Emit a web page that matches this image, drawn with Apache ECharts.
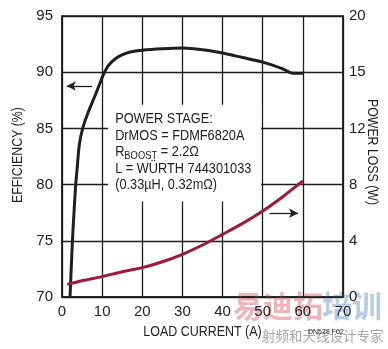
<!DOCTYPE html>
<html>
<head>
<meta charset="utf-8">
<script src="https://cdn.jsdelivr.net/npm/echarts@6/dist/echarts.min.js"></script>
<style>html,body{margin:0;padding:0;background:#fff}#c{width:388px;height:349px}</style>
</head>
<body>
<div id="c"></div>
<script>
// Efficiency (%) vs load current (A)
const effCurrent = [2.0, 2.6, 3.0, 3.4, 3.74, 4.3, 5.15, 6.6, 8.3, 9.55, 10.4, 11.6, 13.3, 15.4, 17.0, 20, 25, 30, 35, 40, 45, 50, 55, 57.5, 60];
const effValues  = [70.0, 75.0, 77.6, 79.9, 81.3, 83.5, 85.0, 86.5, 87.97, 89.1, 89.85, 90.6, 91.2, 91.6, 91.8, 91.95, 92.08, 92.15, 92.0, 91.7, 91.3, 90.9, 90.3, 89.9, 89.9];
// Power loss (W) vs load current (A)
const lossCurrent = [1.3, 5, 10, 15, 20, 25, 30, 35, 40, 45, 50, 55, 60];
const lossValues  = [0.90, 1.16, 1.45, 1.80, 2.09, 2.51, 3.04, 3.70, 4.46, 5.24, 6.12, 7.14, 8.26];
// tick labels
const rightTickLabels = ['0', '4', '8', '12', '15', '20'];
const noteLines = ['POWER STAGE:', 'DrMOS = FDMF6820A', 'R{sub|BOOST} = 2.2Ω', 'L = WÜRTH 744301033', '(0.33µH, 0.32mΩ)'];
const xTitle = 'LOAD CURRENT (A)';
const leftTitle = 'EFFICIENCY (%)';
const rightTitle = 'POWER LOSS (W)';

const effData = effCurrent.map((x, i) => [x, effValues[i]]);
const lossData = lossCurrent.map((x, i) => [x, lossValues[i]]);

const sans = 'Liberation Sans, Arial, sans-serif';
const tickFont = {fontFamily: sans, fontSize: 15, color: '#222'};
const black = '#1e1e1e';
const red = '#a0183c';

const chart = echarts.init(document.getElementById('c'), null, {renderer: 'canvas'});
chart.setOption({
  animation: false,
  backgroundColor: '#fff',
  grid: {left: 62, top: 16, right: 45, bottom: 52, show: true, borderColor: black, borderWidth: 1.5, backgroundColor: 'transparent'},
  xAxis: {
    type: 'value', min: 0, max: 70, interval: 10,
    axisLine: {show: true, lineStyle: {color: black, width: 1.5}},
    axisTick: {show: false},
    axisLabel: Object.assign({margin: 7}, tickFont),
    splitLine: {show: true, lineStyle: {color: black, width: 1.3}}
  },
  yAxis: [{
    type: 'value', min: 70, max: 95, interval: 5, position: 'left',
    axisLine: {show: true, lineStyle: {color: black, width: 1.5}},
    axisTick: {show: false},
    axisLabel: Object.assign({margin: 9}, tickFont),
    splitLine: {show: true, lineStyle: {color: black, width: 1.3}}
  }, {
    type: 'value', min: 0, max: 20, interval: 4, position: 'right',
    axisLine: {show: true, lineStyle: {color: black, width: 1.5}},
    axisTick: {show: false},
    axisLabel: Object.assign({margin: 6, formatter: (v) => rightTickLabels[Math.round(v / 4)]}, tickFont),
    splitLine: {show: false}
  }],
  series: [{
    type: 'line', yAxisIndex: 0, data: effData, smooth: 0.3, showSymbol: false,
    lineStyle: {color: black, width: 3}, z: 3, silent: true,
    markArea: {
      silent: true,
      itemStyle: {color: '#fff'},
      label: {show: false},
      data: [[{xAxis: 11.5, yAxis: 87.1}, {xAxis: 49.6, yAxis: 78.5}]]
    },
    markLine: {
      silent: true, symbol: ['none', 'arrow'], symbolSize: [7, 9],
      lineStyle: {color: black, width: 1.3, type: 'solid'}, label: {show: false},
      data: [[{coord: [7.5, 88.77]}, {coord: [1.2, 88.77]}]]
    }
  }, {
    type: 'line', yAxisIndex: 1, data: lossData, smooth: 0.3, showSymbol: false,
    lineStyle: {color: red, width: 3}, z: 3, silent: true,
    markLine: {
      silent: true, symbol: ['none', 'arrow'], symbolSize: [7, 9],
      lineStyle: {color: black, width: 1.3, type: 'solid'}, label: {show: false},
      data: [[{coord: [51.7, 5.96]}, {coord: [58.8, 5.96]}]]
    }
  }]
});

const boxTL = chart.convertToPixel({xAxisIndex: 0, yAxisIndex: 0}, [11.5, 87.1]);
const titleStyle = (t) => ({text: t, fontFamily: sans, fontSize: 14, fill: '#222', align: 'center', verticalAlign: 'middle'});
chart.setOption({
  graphic: [
    {type: 'text', left: 233, top: 291, z: 0, silent: true, style: {text: '易迪拓', fontFamily: 'Noto Sans CJK SC', fontSize: 30, fontWeight: 'bold', fill: 'rgba(226,130,142,0.6)'}},
    {type: 'text', left: 322, top: 291, z: 0, silent: true, style: {text: '培训', fontFamily: 'Noto Sans CJK SC', fontSize: 30, fontWeight: 'bold', fill: 'rgba(120,160,210,0.55)'}},
    {type: 'text', left: 262, top: 329, z: 0, silent: true, style: {text: '射频和天线设计专家', fontFamily: 'Noto Sans CJK SC', fontSize: 13.5, fill: 'rgba(130,130,130,0.7)'}},
    {type: 'text', left: 308, top: 329, z: 10, silent: true, style: {text: 'DN528 F02', fontFamily: sans, fontSize: 7, fill: '#333'}},
    {type: 'text', x: boxTL[0] + 7, y: boxTL[1] + 6, scaleX: 0.85, z: 10, silent: true,
      style: {
        text: noteLines.join('\n'), fontFamily: sans, fontSize: 15, lineHeight: 16.5, fill: '#222',
        rich: {sub: {fontFamily: sans, fontSize: 11, fill: '#222', lineHeight: 16.5, padding: [7, 0, 0, 0]}}
      }},
    {type: 'text', x: 202.5, y: 332, scaleX: 0.89, z: 10, silent: true, style: titleStyle(xTitle)},
    {type: 'text', x: 18, y: 155, rotation: Math.PI / 2, scaleX: 0.88, z: 10, silent: true, style: titleStyle(leftTitle)},
    {type: 'text', x: 372, y: 152, rotation: -Math.PI / 2, scaleX: 0.88, z: 10, silent: true, style: titleStyle(rightTitle)}
  ]
});
</script>
</body>
</html>
